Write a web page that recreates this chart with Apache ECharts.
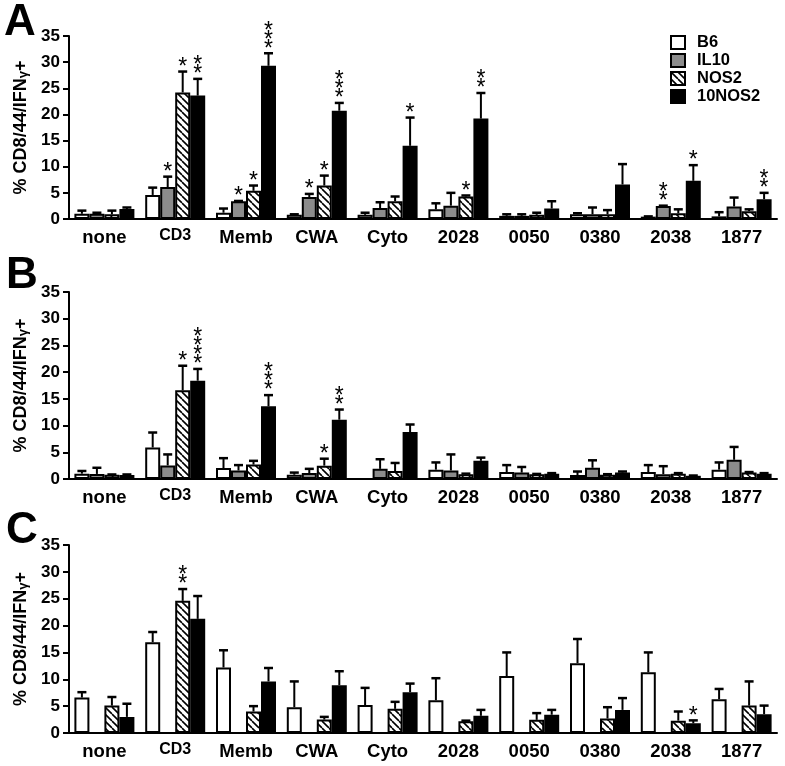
<!DOCTYPE html>
<html>
<head>
<meta charset="utf-8">
<script src="https://cdn.jsdelivr.net/npm/echarts@6/dist/echarts.min.js"></script>
<style>
html,body{margin:0;padding:0;background:#fff;}
#chart{width:785px;height:766px;}
</style>
</head>
<body>
<div id="chart"></div>
<script>
// ---------- DATA ----------
const categories = ['none','CD3','Memb','CWA','Cyto','2028','0050','0380','2038','1877'];
const seriesNames = ['B6','IL10','NOS2','10NOS2'];
const yTicks = [0,5,10,15,20,25,30,35];

// Panel A  (means, upper error)
const A_B6       = [1.0, 4.6, 1.2, 0.8, 0.8, 1.85, 0.6, 0.9, 0.45, 0.5];
const A_B6_err   = [0.6, 1.4, 0.8, 0.1, 0.4, 1.15, 0.3, 0.2, 0.05, 0.8];
const A_IL10     = [1.0, 6.1, 3.4, 4.2, 2.1, 2.55, 0.6, 0.9, 2.5, 2.4];
const A_IL10_err = [0.2, 2.0, 0.05, 0.6, 1.1, 2.45, 0.3, 1.3, 0.05, 1.7];
const A_NOS2     = [0.9, 24.2, 5.4, 6.4, 3.4, 4.3, 0.8, 0.9, 1.1, 1.5];
const A_NOS2_err = [0.7, 4.0, 1.0, 1.9, 0.9, 0.2, 0.4, 0.8, 0.75, 0.35];
const A_10NOS2     = [1.9, 23.6, 29.3, 20.7, 14.0, 19.2, 2.0, 6.6, 7.3, 3.8];
const A_10NOS2_err = [0.3, 3.2, 2.4, 1.5, 5.4, 4.9, 1.4, 3.9, 3.0, 1.2];
const A_stars_B6     = [0,0,0,0,0,0,0,0,0,0];
const A_stars_IL10   = [0,1,1,1,0,0,0,0,2,0];
const A_stars_NOS2   = [0,1,1,1,0,1,0,0,0,0];
const A_stars_10NOS2 = [0,2,3,3,1,2,0,0,1,2];

// Panel B
const B_B6       = [1.0, 5.9, 2.05, 0.8, 0, 1.75, 1.3, 0.75, 1.3, 1.75];
const B_B6_err   = [0.5, 2.8, 1.85, 0.4, 0, 1.35, 1.3, 0.65, 1.3, 1.35];
const B_IL10     = [0.95, 2.55, 1.6, 1.1, 1.9, 1.6, 1.2, 2.1, 0.9, 3.6];
const B_IL10_err = [1.15, 2.05, 1.0, 0.8, 1.8, 3.0, 1.05, 1.4, 1.5, 2.4];
const B_NOS2     = [0.8, 16.6, 2.7, 2.5, 1.5, 0.9, 0.9, 0.8, 1.0, 1.2];
const B_NOS2_err = [0.05, 4.6, 0.7, 1.3, 1.5, 0.1, 0.05, 0.1, 0.1, 0.1];
const B_10NOS2     = [0.75, 18.4, 13.6, 11.1, 8.8, 3.4, 1.0, 1.2, 0.6, 1.0];
const B_10NOS2_err = [0.1, 2.2, 2.1, 1.9, 1.4, 0.6, 0.1, 0.2, 0.05, 0.1];
const B_stars_B6     = [0,0,0,0,0,0,0,0,0,0];
const B_stars_IL10   = [0,0,0,0,0,0,0,0,0,0];
const B_stars_NOS2   = [0,1,0,1,0,0,0,0,0,0];
const B_stars_10NOS2 = [0,4,3,2,0,0,0,0,0,0];

// Panel C (no IL10 group)
const C_B6       = [6.6, 16.9, 12.2, 4.8, 5.2, 6.1, 10.6, 13.0, 11.3, 6.3];
const C_B6_err   = [1.0, 1.9, 3.2, 4.8, 3.2, 4.1, 4.4, 4.5, 3.7, 1.9];
const C_IL10     = [null,null,null,null,null,null,null,null,null,null];
const C_IL10_err = [null,null,null,null,null,null,null,null,null,null];
const C_NOS2     = [5.1, 24.6, 4.0, 2.5, 4.5, 2.2, 2.45, 2.7, 2.3, 5.1];
const C_NOS2_err = [1.6, 2.2, 1.0, 0.5, 1.3, 0.1, 1.25, 2.1, 1.7, 4.5];
const C_10NOS2     = [3.0, 21.25, 9.6, 8.9, 7.6, 3.2, 3.4, 4.3, 1.8, 3.5];
const C_10NOS2_err = [2.45, 4.25, 2.5, 2.6, 1.6, 1.1, 0.9, 2.2, 0.55, 1.6];
const C_stars_B6     = [0,0,0,0,0,0,0,0,0,0];
const C_stars_IL10   = [0,0,0,0,0,0,0,0,0,0];
const C_stars_NOS2   = [0,2,0,0,0,0,0,0,0,0];
const C_stars_10NOS2 = [0,0,0,0,0,0,0,0,1,0];

const panelLetters = ['A','B','C'];
const yAxisTitle = '% CD8/44/IFN';

// ---------- STYLE ----------
const FONT = '"Liberation Sans", Arial, sans-serif';
const BW = 15;

function hatch() {
  const c = document.createElement('canvas');
  c.width = 7; c.height = 7;
  const g = c.getContext('2d');
  g.fillStyle = '#fff'; g.fillRect(0,0,7,7);
  g.strokeStyle = '#000'; g.lineWidth = 1.6;
  for (const k of [-7,0,7]) { g.beginPath(); g.moveTo(k,0); g.lineTo(k+7,7); g.stroke(); }
  return c;
}
const fills = ['#ffffff', '#8c8c8c', {image: hatch(), repeat: 'repeat'}, '#000000'];

const panels = [
  {vals:[A_B6,A_IL10,A_NOS2,A_10NOS2], errs:[A_B6_err,A_IL10_err,A_NOS2_err,A_10NOS2_err], stars:[A_stars_B6,A_stars_IL10,A_stars_NOS2,A_stars_10NOS2]},
  {vals:[B_B6,B_IL10,B_NOS2,B_10NOS2], errs:[B_B6_err,B_IL10_err,B_NOS2_err,B_10NOS2_err], stars:[B_stars_B6,B_stars_IL10,B_stars_NOS2,B_stars_10NOS2]},
  {vals:[C_B6,C_IL10,C_NOS2,C_10NOS2], errs:[C_B6_err,C_IL10_err,C_NOS2_err,C_10NOS2_err], stars:[C_stars_B6,C_stars_IL10,C_stars_NOS2,C_stars_10NOS2]}
];

const gridPos = [
  {left: 69, right: 8, top: 36, height: 183},
  {left: 69, right: 8, top: 292, height: 187},
  {left: 69, right: 8, top: 545, height: 188}
];

const grid = [], xAxis = [], yAxis = [], series = [];
panels.forEach((p, pi) => {
  grid.push(Object.assign({containLabel: false}, gridPos[pi]));
  xAxis.push({
    type: 'category', gridIndex: pi, data: categories,
    axisLine: {lineStyle: {color: '#000', width: 2}},
    axisTick: {alignWithLabel: true, interval: 0, length: 6, lineStyle: {color: '#000', width: 2}},
    axisLabel: {
      interval: 0, hideOverlap: false,
      margin: 9, color: '#000', fontFamily: FONT, fontWeight: 'bold', fontSize: 18.5,
      formatter: v => v === 'CD3' ? '{s|' + v + '}' : v,
      rich: {s: {fontSize: 16, fontWeight: 'bold', fontFamily: FONT, color: '#000'}}
    }
  });
  yAxis.push({
    type: 'value', gridIndex: pi, min: 0, max: 35, interval: 5,
    splitLine: {show: false},
    axisLine: {show: true, lineStyle: {color: '#000', width: 2}},
    axisTick: {show: true, length: 6, lineStyle: {color: '#000', width: 2}},
    axisLabel: {margin: 9, color: '#000', fontFamily: FONT, fontWeight: 'bold', fontSize: 17},
    name: '{t|' + yAxisTitle + '}{g|γ}{t|+}',
    nameLocation: 'middle', nameRotate: 90, nameGap: 30,
    nameTextStyle: {
      rich: {
        t: {fontFamily: FONT, fontWeight: 'bold', fontSize: 18, color: '#000'},
        g: {fontFamily: FONT, fontWeight: 'bold', fontSize: 13, color: '#000', padding: [5,0,0,0]}
      }
    }
  });
  seriesNames.forEach((name, si) => {
    series.push({
      type: 'bar', name: name, xAxisIndex: pi, yAxisIndex: pi,
      data: p.vals[si], barWidth: BW, barGap: '0%',
      itemStyle: {color: fills[si], borderColor: '#000', borderWidth: 2},
      emphasis: {disabled: true}, z: 2
    });
  });
  seriesNames.forEach((name, si) => {
    const d = categories.map((c, ci) => [ci, p.vals[si][ci], p.errs[si][ci], p.stars[si][ci]]);
    series.push({
      type: 'custom', xAxisIndex: pi, yAxisIndex: pi, z: 3, silent: true,
      data: d,
      renderItem: (params, api) => {
        const v = api.value(1);
        if (v === null || v === undefined || isNaN(v)) return;
        const e = api.value(2) || 0, s = api.value(3) || 0;
        const p0 = api.coord([api.value(0), v]);
        const p1 = api.coord([api.value(0), v + e]);
        const x = p0[0] + (si - 1.5) * BW;
        const kids = [];
        if (e > 0) {
          kids.push({type: 'line', shape: {x1: x, y1: p0[1], x2: x, y2: p1[1]}, style: {stroke: '#000', lineWidth: 2}});
          kids.push({type: 'line', shape: {x1: x - 4.5, y1: p1[1], x2: x + 4.5, y2: p1[1]}, style: {stroke: '#000', lineWidth: 2.5}});
        }
        for (let k = 0; k < s; k++) {
          kids.push({type: 'text', style: {
            text: '*', x: x, y: p1[1] - 4 - k * 9,
            font: '23px ' + FONT, fill: '#000', align: 'center', verticalAlign: 'middle'
          }});
        }
        return {type: 'group', children: kids};
      }
    });
  });
});

const graphic = panelLetters.map((L, i) => ({
  type: 'text', left: [4, 6, 6][i], top: [1, 254, 509][i],
  style: {text: L, font: 'bold 44px ' + FONT, fill: '#000'}
}));

const chart = echarts.init(document.getElementById('chart'), null, {renderer: 'canvas'});
chart.setOption({
  animation: false,
  backgroundColor: '#fff',
  grid, xAxis, yAxis, series, graphic,
  legend: {
    data: seriesNames, orient: 'vertical', left: 670, top: 34, padding: 0,
    icon: 'rect', itemWidth: 14, itemHeight: 13, itemGap: 1,
    selectedMode: false,
    textStyle: {fontFamily: FONT, fontWeight: 'bold', fontSize: 16.5, lineHeight: 16, color: '#000', padding: [0,0,0,7]}
  }
});
</script>
</body>
</html>
